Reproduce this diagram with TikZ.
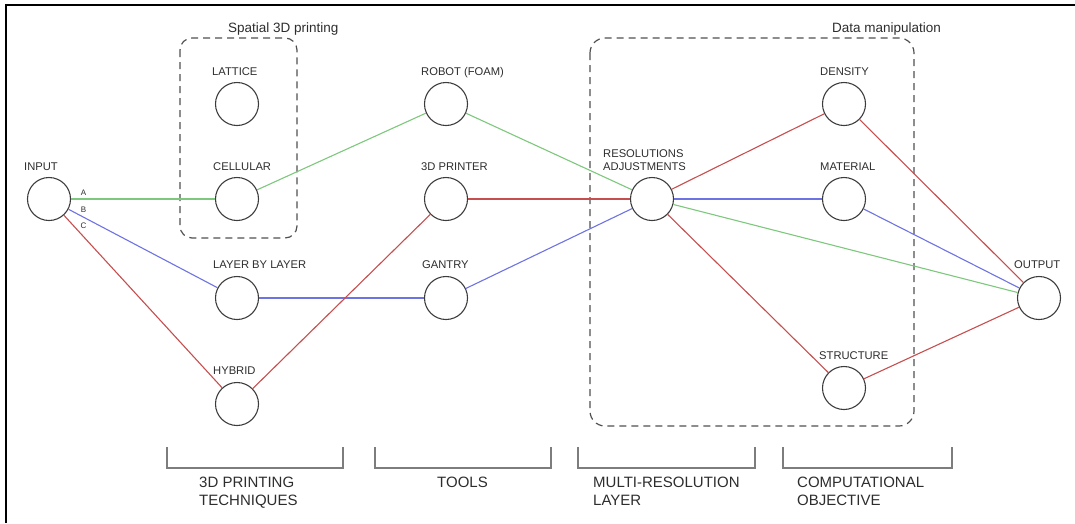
\documentclass[tikz,border=0pt]{standalone}
\usepackage{fontspec}
\setmainfont{Liberation Sans}
\usetikzlibrary{positioning}
\definecolor{pathgreen}{RGB}{125, 200, 125}
\definecolor{pathblue}{RGB}{110, 115, 228}
\definecolor{pathred}{RGB}{198, 78, 78}
\definecolor{ringgray}{RGB}{60, 60, 60}
\definecolor{textgray}{RGB}{45, 45, 45}
\definecolor{boxgray}{RGB}{80, 80, 80}
\definecolor{bracketgray}{RGB}{125, 125, 125}

\tikzset{
  unit/.style={circle, draw=ringgray, line width=1.1pt, minimum size=43pt, inner sep=0pt},
  tag/.style={anchor=base west, inner sep=0pt, align=left, text=textgray,
    font=\fontsize{11.2}{13}\selectfont},
  title/.style={anchor=base west, inner sep=0pt, text=textgray,
    font=\fontsize{13.5}{16}\selectfont},
  stage/.style={anchor=base west, inner sep=0pt, align=left, text=textgray,
    font=\fontsize{15}{18}\selectfont},
  branch/.style={inner sep=0pt, text=textgray, font=\fontsize{8}{9}\selectfont},
  group/.style={draw=boxgray, line width=1.2pt, dash pattern=on 7pt off 5pt},
  bracket/.style={draw=bracketgray, line width=1.3pt},
  green-link/.style={draw=pathgreen, line width=1.1pt},
  blue-link/.style={draw=pathblue, line width=1.1pt},
  red-link/.style={draw=pathred, line width=1.1pt}
}

\begin{document}
\begin{tikzpicture}[x=1pt, y=-1pt]
\useasboundingbox (0,0) rectangle (1075,523);

% frame
\draw[line width=2pt] (5,5) -- (1075,5);
\draw[line width=2pt] (6,4) -- (6,523);

% dashed groups
\draw[group, rounded corners=12pt] (180,38) rectangle (297,238);
\draw[group, rounded corners=15pt] (590,38) rectangle (914,426);
\node[title] (spatial-t) at (228,32) {Spatial 3D printing};
\node[title] (data-t) at (832,32) {Data manipulation};

% units
\node[unit] (input) at (49,199) {};
\node[unit] (lattice) at (237,104) {};
\node[unit] (cellular) at (237,199) {};
\node[unit] (layered) at (237,298) {};
\node[unit] (hybrid) at (237,404) {};
\node[unit] (robot) at (446,104) {};
\node[unit] (printer) at (446,199) {};
\node[unit] (gantry) at (446,298) {};
\node[unit] (resadj) at (652,199) {};
\node[unit] (density) at (844,104) {};
\node[unit] (material) at (844,199) {};
\node[unit] (structure) at (844,388) {};
\node[unit] (output) at (1039,298) {};

% unit labels
\node[tag] (input-t) at ([shift={(-25,-29)}]input.center) {INPUT};
\node[tag] (lattice-t) at ([shift={(-25,-29)}]lattice.center) {LATTICE};
\node[tag] (cellular-t) at ([shift={(-24,-29)}]cellular.center) {CELLULAR};
\node[tag] (layered-t) at ([shift={(-24,-30)}]layered.center) {LAYER BY LAYER};
\node[tag] (hybrid-t) at ([shift={(-24,-30)}]hybrid.center) {HYBRID};
\node[tag] (robot-t) at ([shift={(-25,-29)}]robot.center) {ROBOT (FOAM)};
\node[tag] (printer-t) at ([shift={(-25,-29)}]printer.center) {3D PRINTER};
\node[tag] (gantry-t) at ([shift={(-24,-30)}]gantry.center) {GANTRY};
\node[tag] (resadj-t) at ([shift={(-49,-29)}]resadj.center) {RESOLUTIONS\\ADJUSTMENTS};
\node[tag] (density-t) at ([shift={(-24,-29)}]density.center) {DENSITY};
\node[tag] (material-t) at ([shift={(-24,-29)}]material.center) {MATERIAL};
\node[tag] (structure-t) at ([shift={(-25,-29)}]structure.center) {STRUCTURE};
\node[tag] (output-t) at ([shift={(-25,-30)}]output.center) {OUTPUT};

\node[branch] (branch-a) at (83.5,192.5) {A};
\node[branch] (branch-b) at (83.5,209.5) {B};
\node[branch] (branch-c) at (83.5,226) {C};

% green route
\draw[green-link] (input) -- (cellular);
\draw[green-link] (cellular) -- (robot);
\draw[green-link] (robot) -- (resadj);
\draw[green-link] (resadj) -- (output);

% blue route
\draw[blue-link] (input) -- (layered);
\draw[blue-link] (layered) -- (gantry);
\draw[blue-link] (gantry) -- (resadj);
\draw[blue-link] (resadj) -- (material);
\draw[blue-link] (material) -- (output);

% red route
\draw[red-link] (input) -- (hybrid);
\draw[red-link] (hybrid) -- (printer);
\draw[red-link] (printer) -- (resadj);
\draw[red-link] (resadj) -- (density);
\draw[red-link] (resadj) -- (structure);
\draw[red-link] (density) -- (output);
\draw[red-link] (structure) -- (output);

% stages
\draw[bracket] (167,447) |- (343,468) -- (343,447);
\draw[bracket] (375,447) |- (551,468) -- (551,447);
\draw[bracket] (578,447) |- (755,468) -- (755,447);
\draw[bracket] (783,447) |- (952,468) -- (952,447);

\node[stage] (techniques) at (199,505.5) {3D PRINTING\\TECHNIQUES};
\node[stage] (tools) at (437,487.5) {TOOLS};
\node[stage] (multires) at (593,505.5) {MULTI-RESOLUTION\\LAYER};
\node[stage] (objective) at (797,505.5) {COMPUTATIONAL\\OBJECTIVE};

\end{tikzpicture}
\end{document}
